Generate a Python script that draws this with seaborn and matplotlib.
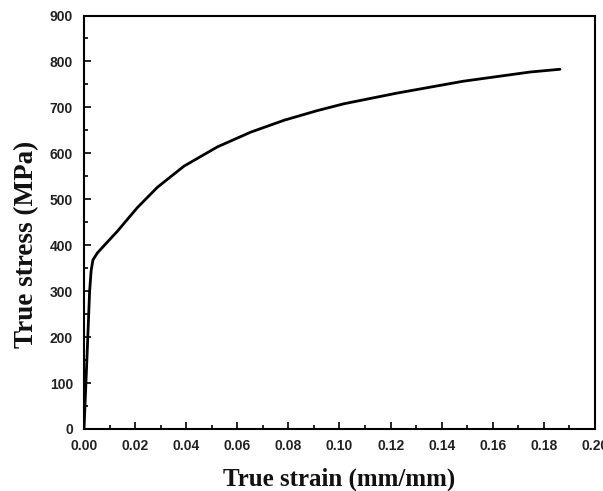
import matplotlib
matplotlib.use("Agg")
import matplotlib.pyplot as plt
from matplotlib.ticker import MultipleLocator, FormatStrFormatter
import seaborn as sns
import pandas as pd

strain = [0.0, 0.0012, 0.0022, 0.0028, 0.0035, 0.0052, 0.008, 0.013, 0.0209, 0.0287,
          0.0391, 0.0522, 0.0652, 0.0783, 0.0913, 0.1018, 0.1224, 0.1485, 0.1746, 0.1863]
stress = [0, 160, 300, 345, 368, 383, 400, 430, 482, 526,
          572, 614, 646, 672, 693, 708, 731, 757, 777, 783]

df = pd.DataFrame({"strain": strain, "stress": stress})

sns.set_style("ticks")
fig = plt.figure(figsize=(6.03, 4.91), dpi=100)
ax = fig.add_axes([0.1393, 0.1263, 0.8474, 0.8421])
sns.lineplot(data=df, x="strain", y="stress", ax=ax, color="black", linewidth=2,
             solid_joinstyle="round", solid_capstyle="round")

ax.set_xlim(0, 0.20)
ax.set_ylim(0, 900)
ax.xaxis.set_major_locator(MultipleLocator(0.02))
ax.xaxis.set_minor_locator(MultipleLocator(0.01))
ax.yaxis.set_major_locator(MultipleLocator(100))
ax.yaxis.set_minor_locator(MultipleLocator(50))
ax.xaxis.set_major_formatter(FormatStrFormatter("%.2f"))
ax.tick_params(which="both", direction="in", top=False, right=False, width=1.2,
               colors="black", labelcolor="#222222")
ax.tick_params(which="major", length=5, labelsize=10)
ax.tick_params(axis="y", which="major", pad=8)
ax.tick_params(axis="x", which="major", pad=7)
ax.tick_params(which="minor", length=3)
for lab in ax.get_xticklabels() + ax.get_yticklabels():
    lab.set_fontweight("bold")
    lab.set_family("Liberation Sans")
for s in ax.spines.values():
    s.set_linewidth(1.5)
    s.set_color("black")

ax.set_xlabel("True strain (mm/mm)", family="Liberation Serif", fontweight="bold",
              fontsize=18, labelpad=11, color="#111111")
ax.set_ylabel("True stress (MPa)", family="Liberation Serif", fontweight="bold",
              fontsize=19.5, color="#111111")
ax.yaxis.set_label_coords(-0.088, 0.447)

fig.savefig("out.png", dpi=100)
